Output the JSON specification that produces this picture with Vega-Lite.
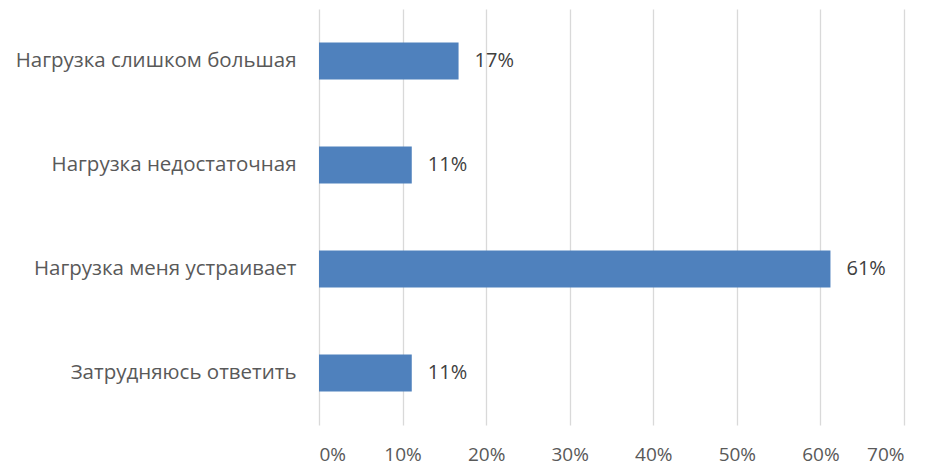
{
  "$schema": "https://vega.github.io/schema/vega-lite/v6.json",
  "autosize": {"type": "none"},
  "padding": {"left": 319, "top": 9, "right": 24, "bottom": 42},
  "width": 585,
  "height": 416,
  "background": "white",
  "config": {"view": {"stroke": null}, "font": "Open Sans"},
  "data": {"values": [
    {"cat": "Нагрузка слишком большая", "v": 0.167, "lbl": "17%"},
    {"cat": "Нагрузка недостаточная", "v": 0.111, "lbl": "11%"},
    {"cat": "Нагрузка меня устраивает", "v": 0.612, "lbl": "61%"},
    {"cat": "Затрудняюсь ответить", "v": 0.111, "lbl": "11%"}
  ]},
  "encoding": {
    "y": {"field": "cat", "type": "nominal", "sort": null,
      "scale": {"paddingInner": 0.646, "paddingOuter": 0.323},
      "axis": {"title": null, "ticks": false, "domain": false, "grid": false,
        "labelFontSize": 20.5, "labelColor": "#595959", "labelPadding": 23, "labelFont": "Open Sans", "labelLimit": 320}},
    "x": {"field": "v", "type": "quantitative",
      "scale": {"domain": [0, 0.7], "nice": false},
      "axis": {"title": null, "format": ".0%", "values": [0,0.1,0.2,0.3,0.4,0.5,0.6,0.7], "ticks": false, "domain": false,
        "gridColor": "#d9d9d9", "gridWidth": 1.3, "labelFontSize": 19, "labelColor": "#595959", "labelPadding": 20, "labelFont": "Open Sans"}}
  },
  "layer": [
    {"mark": {"type": "bar", "color": "#4f81bd"}},
    {"mark": {"type": "text", "align": "left", "dx": 16, "fontSize": 20, "color": "#404040", "font": "Open Sans"},
     "encoding": {"text": {"field": "lbl"}}}
  ]
}
